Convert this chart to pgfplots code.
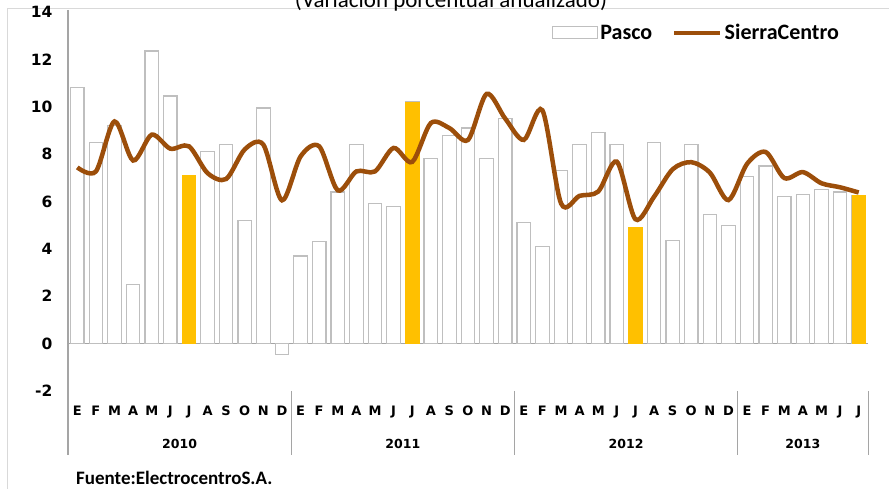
\documentclass[border=0pt]{standalone}
\usepackage{pgfplots}
\pgfplotsset{compat=1.18}
\usepackage{fontspec}
\setmainfont{Carlito}
\newfontfamily\dv{DejaVu Sans}
\definecolor{barorange}{RGB}{255,192,0}
\definecolor{bargray}{RGB}{191,191,191}
\definecolor{linebrown}{RGB}{156,78,10}
\definecolor{axisgray}{RGB}{165,165,165}
\definecolor{framegray}{RGB}{217,217,217}
\begin{document}
\begin{tikzpicture}
\draw[framegray, line width=1pt] (7pt,0pt) -- (7pt,480pt) -- (889pt,480pt);
\node[anchor=base, inner sep=0pt, font=\fontsize{23}{26}\selectfont] at (451pt,481pt) {(Variación porcentual anualizado)};
\begin{axis}[
  scale only axis, width=800pt, height=379pt,
  at={(68pt,98pt)}, anchor=south west,
  xmin=-0.5, xmax=42.5, ymin=-2, ymax=14,
  axis line style={draw=none},
  major tick length=0pt,
  clip=false,
  ytick={-2,0,2,4,6,8,10,12,14},
  /pgf/number format/assume math mode=true,
  yticklabel style={font=\dv\bfseries\fontsize{15.5}{17}\selectfont, xshift=-12pt},
  xtick={0,...,42},
  xticklabels={E,F,M,A,M,J,J,A,S,O,N,D,E,F,M,A,M,J,J,A,S,O,N,D,E,F,M,A,M,J,J,A,S,O,N,D,E,F,M,A,M,J,J},
  xticklabel style={font=\dv\bfseries\fontsize{13}{15}\selectfont, yshift=-11pt},
  legend columns=2,
  legend style={at={(rel axis cs:0.605,0.945)}, anchor=west, draw=none, fill=none, inner sep=0pt,
    font=\bfseries\fontsize{22}{24}\selectfont,
    nodes={inner sep=2pt},
    /tikz/every even column/.append style={column sep=18pt}},
]
\draw[axisgray, line width=1.2pt] (axis cs:-0.5,0) -- (axis cs:42.5,0);
\addplot[ybar, bar width=13.5pt, bar shift=0pt, fill=white, draw=bargray, line width=1.2pt,
  legend image code/.code={\draw[bargray, fill=white, line width=1.2pt] (0pt,-6pt) rectangle (45pt,6pt);}]
coordinates {
(0,10.8) (1,8.5) (2,9.2) (3,2.5) (4,12.35) (5,10.45) (6,7.1) (7,8.1) (8,8.4) (9,5.2) (10,9.95) (11,-0.45)
(12,3.7) (13,4.3) (14,6.4) (15,8.4) (16,5.9) (17,5.8) (18,10.2) (19,7.8) (20,8.8) (21,9.1) (22,7.8) (23,9.5)
(24,5.1) (25,4.1) (26,7.3) (27,8.4) (28,8.9) (29,8.4) (30,4.9) (31,8.5) (32,4.35) (33,8.4) (34,5.45) (35,5.0)
(36,7.05) (37,7.5) (38,6.2) (39,6.3) (40,6.5) (41,6.4) (42,6.25)
};
\addlegendentry{Pasco}
\addplot[ybar, bar width=13.5pt, bar shift=0pt, fill=barorange, draw=barorange, forget plot]
coordinates {(6,7.1) (18,10.2) (30,4.9) (42,6.25)};
\addplot[linebrown, line width=4.5pt, smooth, no markers,
  legend image code/.code={\draw[linebrown, line width=4.5pt] (0pt,0pt) -- (46pt,0pt);}]
coordinates {
(0,7.44) (1,7.27) (2,9.38) (3,7.73) (4,8.82) (5,8.23) (6,8.33) (7,7.2) (8,6.95) (9,8.2) (10,8.4) (11,6.05)
(12,7.9) (13,8.33) (14,6.47) (15,7.27) (16,7.27) (17,8.26) (18,7.67) (19,9.31) (20,9.1) (21,8.6) (22,10.54) (23,9.5)
(24,8.6) (25,9.85) (26,5.92) (27,6.24) (28,6.42) (29,7.68) (30,5.25) (31,6.2) (32,7.36) (33,7.66) (34,7.22) (35,6.06)
(36,7.59) (37,8.09) (38,6.99) (39,7.24) (40,6.77) (41,6.6) (42,6.38)
};
\addlegendentry{SierraCentro}
\draw[axisgray, line width=1.2pt] (axis cs:-0.5,14) ++(0pt,2pt) -- (axis cs:-0.5,-2) -- ++(0pt,-64pt);
\draw[axisgray, line width=1pt] (axis cs:11.5,-2) -- ++(0pt,-64pt);
\draw[axisgray, line width=1pt] (axis cs:23.5,-2) -- ++(0pt,-64pt);
\draw[axisgray, line width=1pt] (axis cs:35.5,-2) -- ++(0pt,-64pt);
\draw[axisgray, line width=1pt] (axis cs:42.5,-2) -- ++(0pt,-64pt);
\node[font=\dv\bfseries\fontsize{12.5}{14}\selectfont, yshift=-53pt] at (axis cs:5.5,-2) {2010};
\node[font=\dv\bfseries\fontsize{12.5}{14}\selectfont, yshift=-53pt] at (axis cs:17.5,-2) {2011};
\node[font=\dv\bfseries\fontsize{12.5}{14}\selectfont, yshift=-53pt] at (axis cs:29.5,-2) {2012};
\node[font=\dv\bfseries\fontsize{12.5}{14}\selectfont, yshift=-53pt] at (axis cs:39,-2) {2013};
\end{axis}
\node[anchor=base west, inner sep=0pt, font=\bfseries\fontsize{19}{21}\selectfont] at (76pt,4pt) {Fuente:ElectrocentroS.A.};
\pgfresetboundingbox
\path[use as bounding box] (0pt,0pt) rectangle (889pt,489pt);
\end{tikzpicture}
\end{document}
